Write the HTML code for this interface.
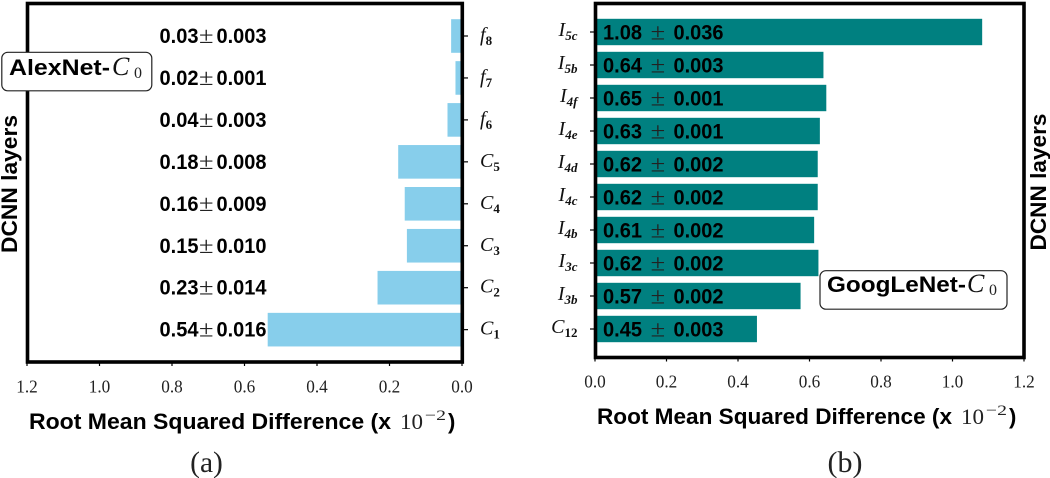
<!DOCTYPE html>
<html lang="en">
<head>
<meta charset="utf-8">
<title>AlexNet and GoogLeNet RMSD by layer</title>
<style>
html,body{margin:0;padding:0;background:#fff;width:1050px;height:478px;overflow:hidden}
svg{display:block;filter:blur(0.35px)}
.sans{font-family:"Liberation Sans",sans-serif;font-weight:700;fill:#000}
.serif{font-family:"Liberation Serif",serif;fill:#222}
.math{font-family:"Liberation Serif",serif;font-style:italic;fill:#111}
</style>
</head>
<body>
<svg id="figure" xmlns="http://www.w3.org/2000/svg" width="1050" height="478" viewBox="0 0 1050 478"></svg>
<script>
// Panel (a): AlexNet
const alexLayers = [["f","8"],["f","7"],["f","6"],["C","5"],["C","4"],["C","3"],["C","2"],["C","1"]];
const alexValues = [0.03,0.018,0.04,0.176,0.158,0.152,0.233,0.536];
const alexMeans = ["0.03","0.02","0.04","0.18","0.16","0.15","0.23","0.54"];
const alexErrors = ["0.003","0.001","0.003","0.008","0.009","0.010","0.014","0.016"];
// Panel (b): GoogLeNet
const googLayers = [["I","5c"],["I","5b"],["I","4f"],["I","4e"],["I","4d"],["I","4c"],["I","4b"],["I","3c"],["I","3b"],["C","12"]];
const googValues = [1.083,0.639,0.647,0.629,0.623,0.623,0.613,0.625,0.575,0.453];
const googMeans = ["1.08","0.64","0.65","0.63","0.62","0.62","0.61","0.62","0.57","0.45"];
const googErrors = ["0.036","0.003","0.001","0.001","0.002","0.002","0.002","0.002","0.002","0.003"];
// Shared axis
const xTicks = [0,0.2,0.4,0.6,0.8,1.0,1.2];
const xMax = 1.2;

const NS = 'http://www.w3.org/2000/svg';
const svg = document.getElementById('figure');
function make(tag, attrs, parent, text){
  const el = document.createElementNS(NS, tag);
  for (const k in attrs) el.setAttribute(k, attrs[k]);
  if (text !== undefined) el.textContent = text;
  (parent || svg).appendChild(el);
  return el;
}

function drawFrame(g, left, right, top, bottom){
  const frame = make('rect',{x:left,y:top,width:right-left,height:bottom-top,fill:'none',stroke:'#000','stroke-width':3.6},g);
  
  
}

function drawXAxis(g, scale, bottom, labelY){
  xTicks.forEach(function(t){
    const x = scale(t);
    const tick = make('line',{x1:x,x2:x,y1:bottom,y2:bottom+4,stroke:'#000','stroke-width':1.2},g);
    
    
    const lab = make('text',{x:x,y:labelY,'text-anchor':'middle','font-size':18,textLength:21.5,lengthAdjust:'spacingAndGlyphs','class':'serif'},g,t.toFixed(1));
    
    
  });
}

function drawXTitle(g, x, y, width){
  const t = make('text',{x:x,y:y,'font-size':22,'class':'sans',textLength:width-67,lengthAdjust:'spacingAndGlyphs'},g,'Root Mean Squared Difference (x');
  
  
  make('text',{x:x+width-58,y:y,'font-size':22,textLength:23,lengthAdjust:'spacingAndGlyphs','class':'serif'},g,'10');
  make('text',{x:x+width-33,y:y-9,'font-size':15,textLength:21,lengthAdjust:'spacingAndGlyphs','class':'serif'},g,'\u22122');
  make('text',{x:x+width-10,y:y,'font-size':22,'class':'sans'},g,')');
}

function drawValueLabel(g, x, y, xPm, xErr, mean, err){
  const wrap = make('g',{},g);
  
  
  make('text',{x:x,y:y,'font-size':21,'class':'sans',textLength:39,lengthAdjust:'spacingAndGlyphs'},wrap,mean);
  make('text',{x:xPm,y:y,'font-size':23,textLength:14.5,lengthAdjust:'spacingAndGlyphs','class':'serif'},wrap,'\u00b1');
  make('text',{x:xErr,y:y,'font-size':21,'class':'sans',textLength:50,lengthAdjust:'spacingAndGlyphs'},wrap,err);
}

function drawLayerLabel(g, x, y, anchor, base, sub){
  const t = make('text',{x:x,y:y,'text-anchor':anchor,'font-size':20,'class':'math'},g);
  
  
  make('tspan',{},t,base);
  const digitsOnly = sub.length > 1 && sub[1] >= '0' && sub[1] <= '9' || sub.length === 1;
  make('tspan',{dy:4,'font-size':13,style:'font-weight:700;'+(digitsOnly?'font-style:normal':'')},t,sub);
}

/* ---- Panel (a) ---- */
const gA = make('g',{});


const aLeft = 27.5, aRight = 462.3, aTop = 3.5, aBottom = 362;
const aZero = 462;
const aX = function(v){ return aZero - v / xMax * (aZero - 27); };
const aY = function(i){ return 36 + i * 41.95; };
const aBarH = 33.6;
alexValues.forEach(function(v,i){
  const bar = make('rect',{x:aX(v),y:aY(i)-aBarH/2,width:aZero-aX(v),height:aBarH,fill:'#87ceeb'},gA);
  
  
});
drawFrame(gA, aLeft, aRight, aTop, aBottom);
alexLayers.forEach(function(l,i){
  const tick = make('line',{x1:464,x2:468,y1:aY(i),y2:aY(i),stroke:'#000','stroke-width':1.2},gA);
  
  
  drawLayerLabel(gA, 480, aY(i)+5, 'start', l[0], l[1]);
  drawValueLabel(gA, 159.5, aY(i)+7, 199, 216.5, alexMeans[i], alexErrors[i]);
});
drawXAxis(gA, aX, aBottom, 392.7);
drawXTitle(gA, 29, 429, 429);
const aTitle = make('text',{transform:'translate(17,253) rotate(-90)','font-size':22,'class':'sans',textLength:138,lengthAdjust:'spacingAndGlyphs'},gA,'DCNN layers');


const aBox = make('rect',{x:1.8,y:52.3,width:150,height:38.5,rx:6,fill:'#fff',stroke:'#222','stroke-width':1.2},gA);


const aNote = make('text',{x:9,y:75,'font-size':22.5,'class':'sans',textLength:101,lengthAdjust:'spacingAndGlyphs'},gA,'AlexNet-');


make('text',{x:112,y:75,'font-size':26,'class':'math'},gA,'C');
make('text',{x:134,y:78,'font-size':16,'class':'serif'},gA,'0');
const aCap = make('text',{x:206.5,y:472,'text-anchor':'middle','font-size':29.5,'class':'serif'},gA,'(a)');



/* ---- Panel (b) ---- */
const gB = make('g',{});


const bLeft = 595.5, bRight = 1024, bTop = 3.5, bBottom = 357.5;
const bX = function(v){ return 595 + v / xMax * (1024 - 595); };
const bY = function(i){ return 32 + i * 33; };
const bBarH = 26.4;
googValues.forEach(function(v,i){
  const bar = make('rect',{x:bX(0),y:bY(i)-bBarH/2,width:bX(v)-bX(0),height:bBarH,fill:'#008080'},gB);
  
  
});
drawFrame(gB, bLeft, bRight, bTop, bBottom);
googLayers.forEach(function(l,i){
  const tick = make('line',{x1:590,x2:594,y1:bY(i),y2:bY(i),stroke:'#000','stroke-width':1.2},gB);
  
  
  drawLayerLabel(gB, 577.5, bY(i)+4, 'end', l[0], l[1]);
  drawValueLabel(gB, 603, bY(i)+7.3, 650.7, 673.5, googMeans[i], googErrors[i]);
});
drawXAxis(gB, bX, bBottom, 387.7);
drawXTitle(gB, 597, 424, 422);
const bTitle = make('text',{transform:'translate(1046,250.5) rotate(-90)','font-size':22,'class':'sans',textLength:137,lengthAdjust:'spacingAndGlyphs'},gB,'DCNN layers');


const bBox = make('rect',{x:820,y:270.7,width:187,height:38.5,rx:6,fill:'#fff',stroke:'#222','stroke-width':1.2},gB);


const bNote = make('text',{x:827,y:292,'font-size':22.5,'class':'sans',textLength:139,lengthAdjust:'spacingAndGlyphs'},gB,'GoogLeNet-');


make('text',{x:967,y:292,'font-size':26,'class':'math'},gB,'C');
make('text',{x:989,y:295,'font-size':16,'class':'serif'},gB,'0');
const bCap = make('text',{x:845,y:472,'text-anchor':'middle','font-size':30,'class':'serif'},gB,'(b)');


</script>
</body>
</html>
